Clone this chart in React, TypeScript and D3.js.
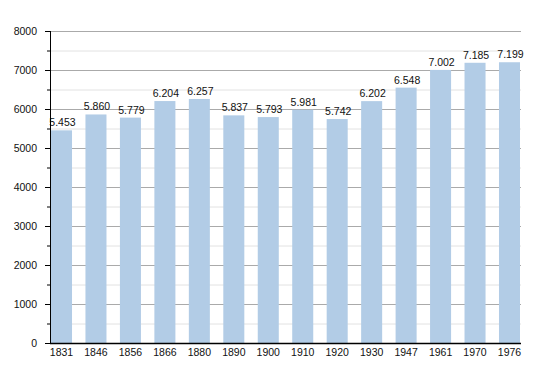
import React, { useRef, useEffect } from 'react';
import * as d3 from 'd3';

const years = ['1831', '1846', '1856', '1866', '1880', '1890', '1900', '1910', '1920', '1930', '1947', '1961', '1970', '1976'];
const population = [5453, 5860, 5779, 6204, 6257, 5837, 5793, 5981, 5742, 6202, 6548, 7002, 7185, 7199];
const yTicks = [0, 1000, 2000, 3000, 4000, 5000, 6000, 7000, 8000];
const yMinorTicks = [500, 1500, 2500, 3500, 4500, 5500, 6500, 7500];

const width = 550;
const height = 373;

const App: React.FC = () => {
  const svgRef = useRef<SVGSVGElement>(null);

  useEffect(() => {
    if (!svgRef.current) return;
    const svg = d3.select(svgRef.current);
    svg.selectAll('*').remove();

    const left = 50;
    const right = 521;
    const top = 31;
    const bottom = 343;
    const font = 'Liberation Sans, Arial, sans-serif';
    const fontSize = '10.5px';

    const x = d3.scaleBand<string>().domain(years).range([51, 520]).paddingInner(0.39).paddingOuter(0);
    const y = d3.scaleLinear().domain([0, 8000]).range([bottom, top]);

    // minor grid
    svg
      .append('g')
      .selectAll('line')
      .data(yMinorTicks)
      .join('line')
      .attr('x1', left)
      .attr('x2', right)
      .attr('y1', (d) => y(d) + 0.5)
      .attr('y2', (d) => y(d) + 0.5)
      .attr('stroke', '#e2e2e2')
      .attr('stroke-width', 1);

    // major grid
    svg
      .append('g')
      .selectAll('line')
      .data(yTicks.filter((d) => d > 0))
      .join('line')
      .attr('x1', left)
      .attr('x2', right)
      .attr('y1', (d) => y(d) + 0.5)
      .attr('y2', (d) => y(d) + 0.5)
      .attr('stroke', '#aaaaaa')
      .attr('stroke-width', 1);

    // bars
    svg
      .append('g')
      .selectAll('rect')
      .data(population)
      .join('rect')
      .attr('x', (_, i) => x(years[i]) ?? 0)
      .attr('y', (d) => y(d))
      .attr('width', x.bandwidth())
      .attr('height', (d) => bottom - y(d))
      .attr('fill', '#b2cce6');

    // value labels
    svg
      .append('g')
      .selectAll('text')
      .data(population)
      .join('text')
      .attr('x', (_, i) => (x(years[i]) ?? 0) + x.bandwidth() / 2 + 1)
      .attr('y', (d) => y(d) - 4)
      .attr('text-anchor', 'middle')
      .attr('font-family', font)
      .attr('font-size', fontSize)
      .attr('fill', '#111')
      .text((d) => d3.format('.3f')(d / 1000));

    // axes lines
    svg
      .append('line')
      .attr('x1', left + 0.5)
      .attr('x2', left + 0.5)
      .attr('y1', top)
      .attr('y2', bottom)
      .attr('stroke', '#000')
      .attr('stroke-width', 1);
    svg
      .append('line')
      .attr('x1', left)
      .attr('x2', right)
      .attr('y1', bottom + 0.5)
      .attr('y2', bottom + 0.5)
      .attr('stroke', '#000')
      .attr('stroke-width', 1.5);

    // y ticks
    svg
      .append('g')
      .selectAll('line')
      .data(yTicks)
      .join('line')
      .attr('x1', left - 5)
      .attr('x2', left)
      .attr('y1', (d) => y(d) + 0.5)
      .attr('y2', (d) => y(d) + 0.5)
      .attr('stroke', '#000');
    svg
      .append('g')
      .selectAll('line')
      .data(yMinorTicks)
      .join('line')
      .attr('x1', left - 3)
      .attr('x2', left)
      .attr('y1', (d) => y(d) + 0.5)
      .attr('y2', (d) => y(d) + 0.5)
      .attr('stroke', '#000');

    svg
      .append('g')
      .selectAll('text')
      .data(yTicks)
      .join('text')
      .attr('x', 37)
      .attr('y', (d) => y(d))
      .attr('dy', '0.35em')
      .attr('text-anchor', 'end')
      .attr('font-family', font)
      .attr('font-size', fontSize)
      .attr('fill', '#111')
      .text((d) => String(d));

    // x labels
    svg
      .append('g')
      .selectAll('text')
      .data(years)
      .join('text')
      .attr('x', (d) => (x(d) ?? 0) + x.bandwidth() / 2)
      .attr('y', 356)
      .attr('text-anchor', 'middle')
      .attr('font-family', font)
      .attr('font-size', fontSize)
      .attr('fill', '#111')
      .text((d) => d);
  }, []);

  return (
    <svg
      ref={svgRef}
      width={width}
      height={height}
      style={{ position: 'absolute', left: 0, top: 0, background: '#fff' }}
    />
  );
};

export default App;
